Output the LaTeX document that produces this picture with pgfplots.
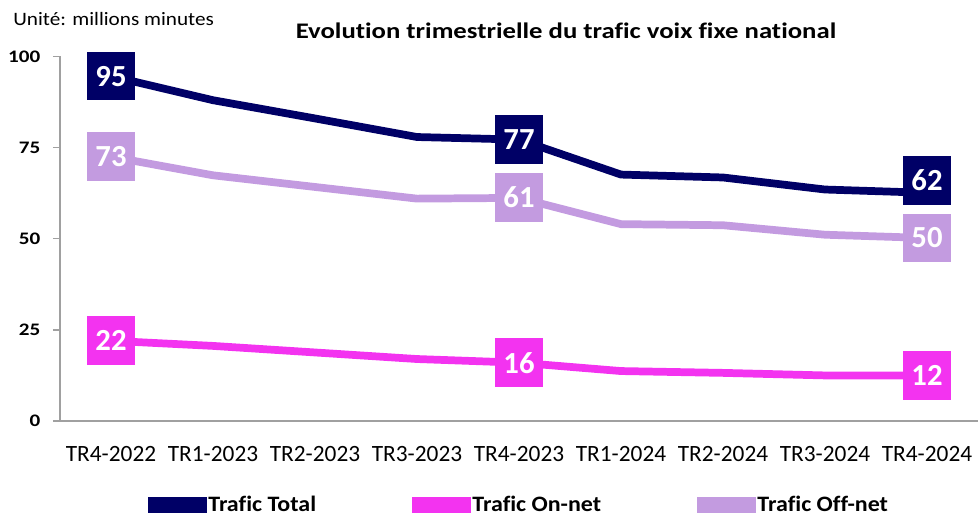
\documentclass[border=0pt]{standalone}
\usepackage{fontspec}
\setmainfont{Carlito}[Ligatures=NoCommon]
\newfontfamily\stretchA{Carlito}[FakeStretch=1.2, Ligatures=NoCommon]
\newfontfamily\stretchB{Carlito}[FakeStretch=1.12, Ligatures=NoCommon]
\newfontfamily\stretchC{Carlito}[FakeStretch=1.09, Ligatures=NoCommon]
\usepackage{pgfplots}
\pgfplotsset{compat=1.18}
\definecolor{cTot}{RGB}{0,0,102}
\definecolor{cOn}{RGB}{243,51,240}
\definecolor{cOff}{RGB}{195,155,224}
\definecolor{axgray}{RGB}{160,160,160}
\begin{document}
\begin{tikzpicture}
\useasboundingbox (-45pt,-72pt) rectangle (689.25pt,315.75pt);
\begin{axis}[
  at={(0,0)}, anchor=south west,
  scale only axis, width=688.5pt, height=273.4pt,
  xmin=-0.5, xmax=8.5, ymin=0, ymax=100,
  axis lines=left,
  axis line style={axgray, line width=1.1pt, -},
  clip=false,
  tick align=outside,
  xtick={0,...,8},
  xticklabels={TR4-2022,TR1-2023,TR2-2023,TR3-2023,TR4-2023,TR1-2024,TR2-2024,TR3-2024,TR4-2024},
  x tick style={draw=none},
  extra x ticks={-0.5,0.5,1.5,2.5,3.5,4.5,5.5,6.5,7.5},
  extra x tick labels={},
  extra x tick style={tick style={axgray, line width=1.1pt, draw=axgray}, major tick length=5.25pt},
  xticklabel style={font=\fontsize{17.5}{20}\selectfont, yshift=-10.5pt},
  ytick={0,25,50,75,100},
  y tick style={axgray, line width=1.1pt},
  major tick length=5.25pt,
  yticklabel style={font=\stretchA\bfseries\fontsize{13.2}{16}\selectfont, xshift=-6pt},
  /pgf/number format/assume math mode=true,
  legend style={at={(axis description cs:0.5,0)}, anchor=center, yshift=-63pt,
    draw=none, fill=none, legend columns=3,
    font=\stretchC\bfseries\fontsize{16.5}{19}\selectfont,
    nodes={inner xsep=1.2pt},
    /tikz/every even column/.append style={column sep=71pt}},
  legend image code/.code={%
    \path[use as bounding box] (0pt,-3pt) rectangle (38pt,3pt);
    \draw[#1, line width=6.5pt, line cap=round] (3.25pt,0pt) -- (34.75pt,0pt);},
]
\addplot[cTot, line width=5.8pt, mark=none] coordinates {
 (0,94.6) (1,88.0) (2,83.0) (3,77.9) (4,77.2) (5,67.6) (6,66.8) (7,63.5) (8,62.6)};
\addlegendentry{Trafic Total}
\addplot[cOn, line width=5.8pt, mark=none] coordinates {
 (0,22.0) (1,20.6) (2,18.8) (3,17.0) (4,16.0) (5,13.7) (6,13.2) (7,12.5) (8,12.5)};
\addlegendentry{Trafic On-net}
\addplot[cOff, line width=5.8pt, mark=none] coordinates {
 (0,72.5) (1,67.4) (2,64.2) (3,61.0) (4,61.2) (5,54.0) (6,53.7) (7,51.1) (8,50.2)};
\addlegendentry{Trafic Off-net}
% data labels
\addplot[forget plot, only marks, mark=*, mark size=0pt, cTot,
  nodes near coords, point meta=explicit symbolic,
  every node near coord/.append style={anchor=center, fill=cTot, text=white,
    font=\bfseries\fontsize{23}{23}\selectfont, minimum size=36.5pt, inner sep=0pt}]
  coordinates {(0,94.6) [95] (4,77.3) [77]};
\addplot[forget plot, only marks, mark=*, mark size=0pt, cTot,
  nodes near coords, point meta=explicit symbolic,
  every node near coord/.append style={anchor=center, fill=cTot, text=white,
    font=\bfseries\fontsize{23}{23}\selectfont, minimum size=36.5pt, inner sep=0pt, yshift=9.3pt}]
  coordinates {(8,62.6) [62]};
\addplot[forget plot, only marks, mark=*, mark size=0pt, cOff,
  nodes near coords, point meta=explicit symbolic,
  every node near coord/.append style={anchor=center, fill=cOff, text=white,
    font=\bfseries\fontsize{23}{23}\selectfont, minimum size=36.5pt, inner sep=0pt}]
  coordinates {(0,72.5) [73] (4,61.3) [61] (8,50.2) [50]};
\addplot[forget plot, only marks, mark=*, mark size=0pt, cOn,
  nodes near coords, point meta=explicit symbolic,
  every node near coord/.append style={anchor=center, fill=cOn, text=white,
    font=\bfseries\fontsize{23}{23}\selectfont, minimum size=36.5pt, inner sep=0pt}]
  coordinates {(0,22.0) [22] (4,16.0) [16] (8,12.5) [12]};
\end{axis}
\node[anchor=west, inner sep=0pt, font=\stretchB\fontsize{14.2}{17}\selectfont] at (-35.25pt,301.5pt) {Unité: millions minutes};
\node[inner sep=0pt, font=\stretchA\bfseries\fontsize{16.7}{20}\selectfont] at (379.5pt,292.5pt) {Evolution trimestrielle du trafic voix fixe national};
\end{tikzpicture}
\end{document}
